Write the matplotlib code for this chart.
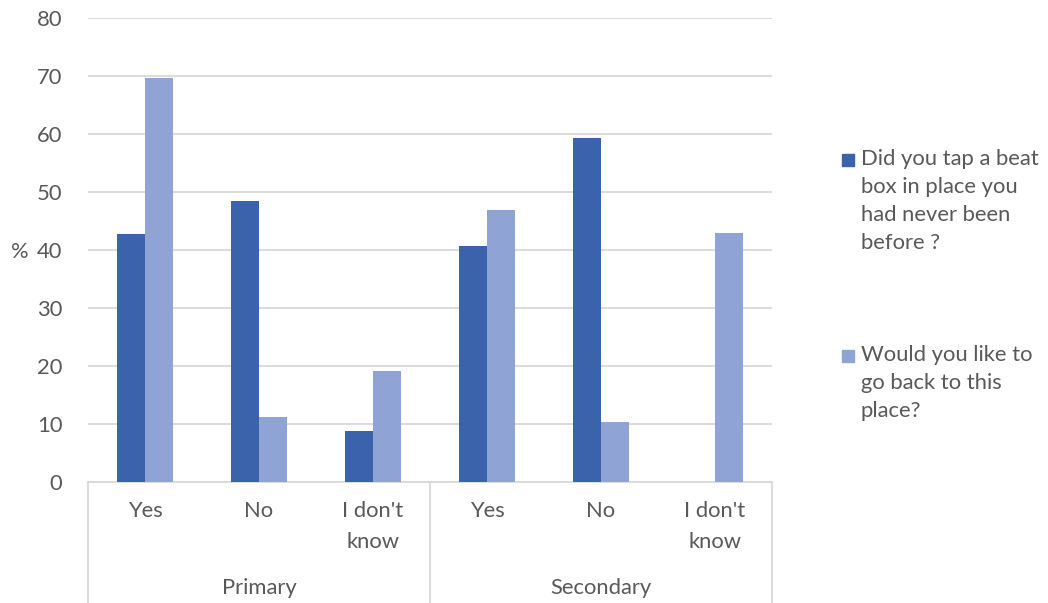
import numpy as np
import matplotlib.pyplot as plt
from matplotlib.patches import Rectangle
from matplotlib.transforms import blended_transform_factory

plt.rcParams['font.family'] = ['Lato', 'DejaVu Sans']

groups = ["Primary", "Secondary"]
answers = ["Yes", "No", "I don't\nknow"]
tapped = [42.7, 48.5, 8.8, 40.7, 59.3, 0.0]
go_back = [69.6, 11.2, 19.2, 46.9, 10.3, 43.0]
series_names = ["Did you tap a beat\nbox in place you\nhad never been\nbefore ?",
                "Would you like to\ngo back to this\nplace?"]
colors = ["#3A63AC", "#8FA4D4"]
grey = "#595959"
fs = 15.8

fig = plt.figure(figsize=(10.48, 6.03), dpi=100)
ax = fig.add_axes([88 / 1048, 1 - 482 / 603, 684 / 1048, 464 / 603])

n = len(groups) * len(answers)
x = np.arange(n)
w = 0.246
ax.bar(x - w / 2, tapped, w, color=colors[0], zorder=3)
ax.bar(x + w / 2, go_back, w, color=colors[1], zorder=3)

ax.set_xlim(-0.5, n - 0.5)
ax.set_ylim(0, 80)
ax.set_yticks(range(0, 81, 10))
ax.grid(axis='y', color='#D9D9D9', linewidth=1.3, zorder=0)
for s in ['top', 'right', 'left']:
    ax.spines[s].set_visible(False)
ax.spines['bottom'].set_color('#D9D9D9')
ax.spines['bottom'].set_linewidth(1.3)
ax.tick_params(axis='y', length=0, pad=18.5, labelsize=fs, labelcolor=grey)
ax.set_xticks([])
fig.text(20 / 1048, 1 - 252 / 603, '%', ha='center', va='center', fontsize=fs, color=grey)

# two-level category axis
tr = blended_transform_factory(ax.transData, ax.transAxes)
bottom = -(603 - 482) / 464
for b in [-0.5, 2.5, 5.5]:
    ax.plot([b, b], [0, bottom], transform=tr, color='#D9D9D9', lw=1.3, clip_on=False)
for i in range(n):
    ax.text(i, -19 / 464, answers[i % 3], transform=tr, ha='center', va='top',
            fontsize=fs, color=grey, linespacing=1.7)
for g, name in enumerate(groups):
    ax.text(g * 3 + 1, -106 / 464, name, transform=tr, ha='center', va='center',
            fontsize=fs, color=grey)

# legend
for k, (label, top) in enumerate(zip(series_names, [160, 356])):
    fig.patches.append(Rectangle((842 / 1048, 1 - (top + 6) / 603), 12 / 1048, 12 / 603,
                                 transform=fig.transFigure, color=colors[k]))
    fig.text(861 / 1048, 1 - (top - 11) / 603, label, ha='left', va='top',
             fontsize=fs, color=grey, linespacing=1.5)

fig.savefig('out.png', dpi=100)
